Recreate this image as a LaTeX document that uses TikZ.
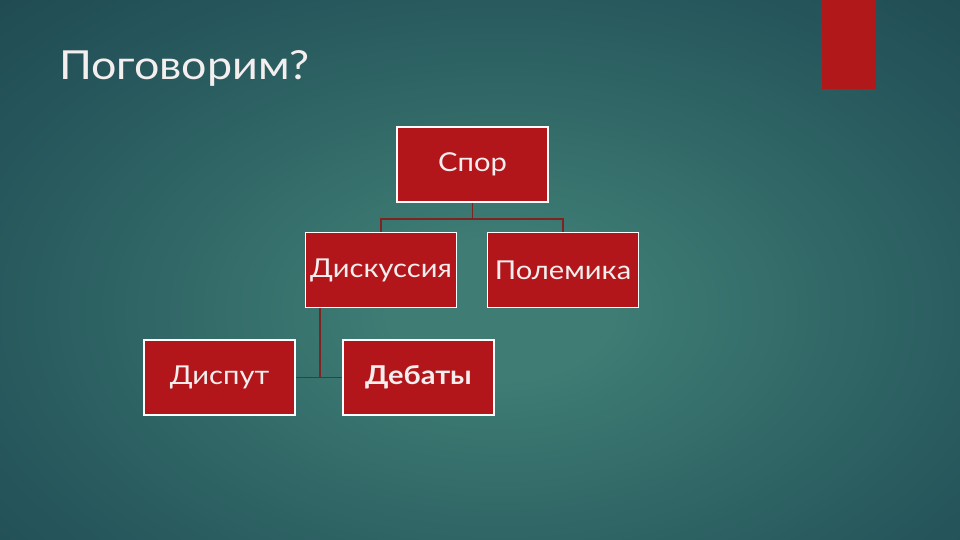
\documentclass[tikz,border=0pt]{standalone}
\usepackage{fontspec}
\setmainfont{Lato}[FakeStretch=1.12]
\usetikzlibrary{calc}
\definecolor{bgA}{HTML}{3E7C74}
\definecolor{bgB}{HTML}{285A5E}
\definecolor{bgC}{HTML}{173A48}
\definecolor{boxred}{HTML}{B3161A}
\definecolor{linkred}{HTML}{7E2222}
\definecolor{barred}{HTML}{B0181A}
\definecolor{txt}{HTML}{F4EEEE}
\pgfdeclareradialshading{bgshade}{\pgfpoint{0bp}{0bp}}{color(0bp)=(bgA); color(5bp)=(bgA); color(22bp)=(bgB); color(42bp)=(bgC); color(80bp)=(bgC)}
\begin{document}
\begin{tikzpicture}[x=1pt,y=-1pt,
  box/.style={draw=white, line width=1.8pt, fill=boxred, minimum width=151pt, minimum height=75pt, inner sep=0pt, text=txt, font=\fontsize{26}{30}\selectfont},
  link/.style={draw=linkred, line width=1.8pt}]
\useasboundingbox (0,0) rectangle (960,540);
\shade[shading=bgshade] (-60,-40) rectangle (1060,660);
\fill[barred] (822,0) rectangle (876,89);
\node[anchor=base west, text=txt, font=\fontsize{40}{48}\selectfont, inner sep=0pt] (title) at (59,80) {Поговорим?};
\node[box] (spor) at (472.5,164.5) {Спор};
\node[box] (disk) at (381,270) {Дискуссия};
\node[box] (pol) at (563,270) {Полемика};
\node[box] (disp) at (219.5,377.5) {Диспут};
\node[box, font=\fontsize{26}{30}\selectfont\bfseries] (deb) at (418.5,377.5) {Дебаты};
\draw[link] (spor.south) -- ++(0,16) coordinate (j);
\draw[link] (j) -| (disk.north);
\draw[link] (j) -| (pol.north);
\coordinate (k) at ($(disk.south west)!0.103!(disk.south east)$);
\draw[link] (k) |- (disp.east);
\draw[link] (k) |- (deb.west);
\end{tikzpicture}
\end{document}
